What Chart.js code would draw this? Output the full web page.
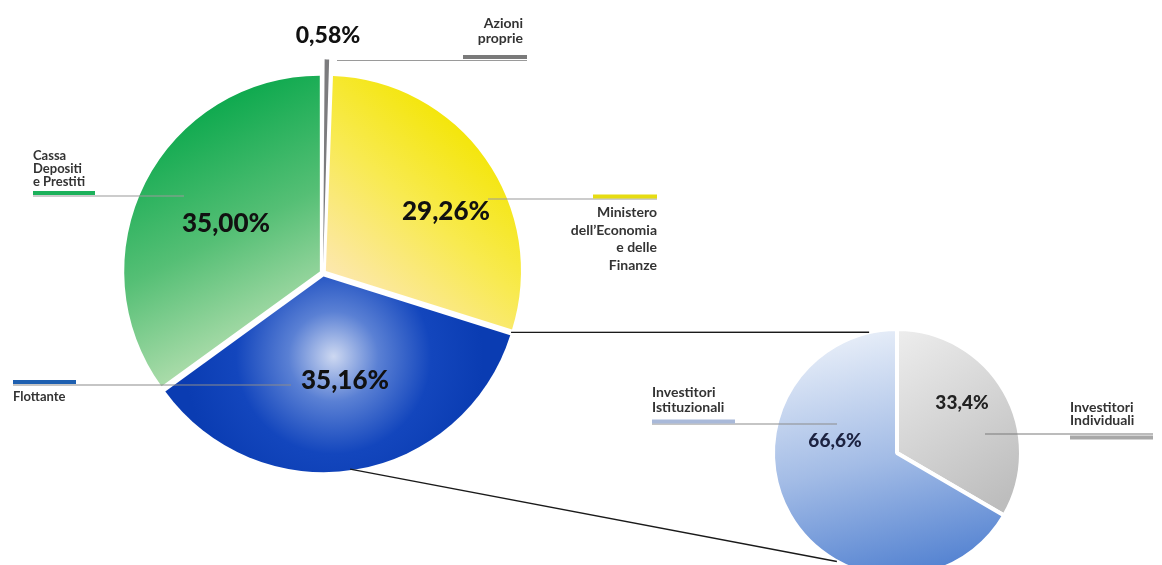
<!DOCTYPE html>
<html>
<head>
<meta charset="utf-8">
<script src="https://cdn.jsdelivr.net/npm/chart.js"></script>
<style>
html, body { margin: 0; padding: 0; background: #fff; overflow: hidden; width: 1162px; height: 565px; }
#main { position: absolute; left: 0; top: 0; z-index: 2; }
#sub { position: absolute; left: 767px; top: 323px; z-index: 1; }
</style>
</head>
<body>
<canvas id="sub" width="260" height="260"></canvas>
<canvas id="main" width="1162" height="565"></canvas>
<script>
// azionariato
const categorie = ['Azioni proprie', "Ministero dell'Economia e delle Finanze", 'Flottante', 'Cassa Depositi e Prestiti']
const quote = [0.58, 29.26, 35.16, 35.00]
const etichette = ['0,58%', '29,26%', '35,16%', '35,00%']

// dettaglio flottante
const categorieFlottante = ['Investitori Individuali', 'Investitori Istituzionali']
const quoteFlottante = [33.4, 66.6]
const etichetteFlottante = ['33,4%', '66,6%']

const FONT = 'Lato, "Open Sans", sans-serif'

function centro(chart) {
    const a = chart.chartArea
    return { x: (a.left + a.right) / 2, y: (a.top + a.bottom) / 2 }
}

function coloreMain(c) {
    const chart = c.chart
    if (!chart.chartArea) return '#ccc'
    const ctx = chart.ctx
    const { x, y } = centro(chart)
    let g
    switch (c.dataIndex) {
        case 0:
            return '#7c7c7e'
        case 1:
            g = ctx.createLinearGradient(x + 170, y - 130, x + 20, y + 40)
            g.addColorStop(0, '#f3e500')
            g.addColorStop(0.45, '#f8ea50')
            g.addColorStop(1, '#fde7bd')
            return g
        case 2:
            g = ctx.createRadialGradient(x + 10, y + 80, 0, x + 10, y + 80, 150)
            g.addColorStop(0, '#cdd8f1')
            g.addColorStop(0.3, '#5a80d4')
            g.addColorStop(0.65, '#1346bd')
            g.addColorStop(1, '#0a3cb2')
            return g
        default:
            g = ctx.createLinearGradient(x - 120, y - 170, x + 10, y + 90)
            g.addColorStop(0, '#0aa84c')
            g.addColorStop(0.45, '#55bf75')
            g.addColorStop(1, '#d5eac4')
            return g
    }
}

function coloreSub(c) {
    const chart = c.chart
    if (!chart.chartArea) return '#ccc'
    const ctx = chart.ctx
    const { x, y } = centro(chart)
    let g
    if (c.dataIndex == 0) {
        g = ctx.createLinearGradient(x + 10, y - 124, x + 120, y + 40)
        g.addColorStop(0, '#ececec')
        g.addColorStop(1, '#bdbdbd')
    } else {
        g = ctx.createLinearGradient(x - 20, y - 124, x + 40, y + 124)
        g.addColorStop(0, '#e6edf8')
        g.addColorStop(0.5, '#a3bce6')
        g.addColorStop(1, '#4f7fd0')
    }
    return g
}

function scrivi(ctx, righe, x, y, passo, allinea, font, colore) {
    ctx.font = font
    ctx.fillStyle = colore
    ctx.textAlign = allinea
    ctx.textBaseline = 'alphabetic'
    righe.forEach((r, i) => ctx.fillText(r, x, y + i * passo))
}

function linea(ctx, x1, y1, x2, y2, w, colore) {
    ctx.beginPath()
    ctx.moveTo(x1, y1)
    ctx.lineTo(x2, y2)
    ctx.lineWidth = w
    ctx.strokeStyle = colore
    ctx.stroke()
}

const sub = new Chart(document.getElementById('sub'), {
    type: 'pie',
    data: {
        labels: categorieFlottante,
        datasets: [{
            data: quoteFlottante,
            backgroundColor: coloreSub,
            borderColor: '#fff',
            borderWidth: 4
        }]
    },
    options: {
        responsive: false,
        animation: false,
        events: [],
        radius: 124,
        layout: { padding: 6 },
        plugins: { legend: { display: false }, tooltip: { enabled: false } }
    }
})

const annotazioni = {
    id: 'annotazioni',
    afterDraw(chart) {
        const ctx = chart.ctx
        const arcs = chart.getDatasetMeta(0).data
        const sArcs = sub.getDatasetMeta(0).data
        const pct = s => `900 ${s}px ${FONT}`
        const lab = s => `bold ${s}px ${FONT}`

        // linee di raccordo verso il dettaglio del flottante
        const blu = arcs[2]
        const c2 = sArcs[0]
        const r2 = c2.outerRadius
        const ox = 767, oy = 323
        const a1 = blu.startAngle, a2 = 82 * Math.PI / 180
        const b1 = -103 * Math.PI / 180, b2 = 119 * Math.PI / 180
        const R = blu.outerRadius
        linea(ctx, blu.x + Math.cos(a1) * R + 2, blu.y + Math.sin(a1) * R + 1,
            ox + c2.x + Math.cos(b1) * r2, oy + c2.y + Math.sin(b1) * r2, 1.4, '#1a1a1a')
        linea(ctx, blu.x + Math.cos(a2) * R, blu.y + Math.sin(a2) * R + 3,
            ox + c2.x + Math.cos(b2) * r2, oy + c2.y + Math.sin(b2) * r2, 1.4, '#1a1a1a')

        // percentuali torta principale
        scrivi(ctx, [etichette[0]], 328, 43, 0, 'center', pct(23), '#111')
        scrivi(ctx, [etichette[1]], 446, 220, 0, 'center', pct(26), '#111')
        scrivi(ctx, [etichette[2]], 345, 389, 0, 'center', pct(26), '#111')
        scrivi(ctx, [etichette[3]], 226, 232, 0, 'center', pct(26), '#111')

        // Azioni proprie
        linea(ctx, 337, 60.5, 527, 60.5, 1.2, '#9a9a9a')
        linea(ctx, 463, 57, 527, 57, 4, '#7a7a7a')
        scrivi(ctx, ['Azioni', 'proprie'], 523, 28, 15, 'right', lab(14), '#333')

        // Ministero
        linea(ctx, 488, 199, 657, 199, 1.2, '#9a9a9a')
        linea(ctx, 593, 196.5, 657, 196.5, 4, '#e6dc12')
        scrivi(ctx, ['Ministero', "dell\u2019Economia", 'e delle', 'Finanze'], 657, 217, 17.7, 'right', lab(14), '#333')

        // Cassa Depositi e Prestiti
        linea(ctx, 33, 196, 184, 196, 1.2, '#9a9a9a')
        linea(ctx, 33, 193, 95, 193, 4, '#1cb15b')
        scrivi(ctx, ['Cassa', 'Depositi', 'e Prestiti'], 33, 160, 13, 'left', lab(13), '#333')

        // Flottante
        linea(ctx, 13, 385, 291, 385, 1.2, '#8c8c8c')
        linea(ctx, 13, 382, 76, 382, 4, '#1d5fb0')
        scrivi(ctx, ['Flottante'], 13, 401, 0, 'left', lab(13), '#333')

        // dettaglio flottante
        scrivi(ctx, [etichetteFlottante[0]], 962, 409, 0, 'center', pct(19), '#222')
        scrivi(ctx, [etichetteFlottante[1]], 835, 447, 0, 'center', pct(19), '#1c2240')

        linea(ctx, 652, 424, 837, 424, 1.2, '#8c8c8c')
        linea(ctx, 652, 421.5, 735, 421.5, 4, '#a9b9d9')
        scrivi(ctx, ['Investitori', 'Istituzionali'], 652, 397, 15, 'left', lab(14), '#333')

        linea(ctx, 985, 434, 1153, 434, 1.2, '#7a7a7a')
        linea(ctx, 1070, 437.5, 1153, 437.5, 4, '#a8a8a8')
        scrivi(ctx, ['Investitori', 'Individuali'], 1070, 412, 12.5, 'left', lab(14), '#333')
    }
}

new Chart(document.getElementById('main'), {
    type: 'pie',
    data: {
        labels: categorie,
        datasets: [{
            data: quote,
            backgroundColor: coloreMain,
            borderWidth: 0,
            offset: [38, 14, 14, 14]
        }]
    },
    options: {
        responsive: false,
        animation: false,
        events: [],
        radius: 195,
        layout: { padding: { left: 93, right: 609, top: 43, bottom: 62 } },
        plugins: { legend: { display: false }, tooltip: { enabled: false } }
    },
    plugins: [annotazioni]
})
</script>
</body>
</html>
